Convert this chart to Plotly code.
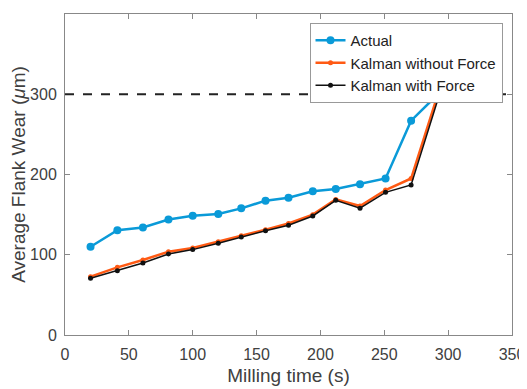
import plotly.graph_objects as go

time_s = [20, 41, 61, 81, 100, 120, 138, 157, 175, 194, 212, 231, 251, 271, 292]
actual = [110, 130.5, 134, 144, 148.7, 150.8, 157.8, 167.4, 171, 179, 182, 188, 195, 267, 300]
kalman_no_force = [72.7, 84.3, 93.5, 103.8, 108.4, 116.3, 123.7, 131.2, 139, 150, 169, 160.7, 180.7, 195, 300]
kalman_force = [70.6, 80, 89.7, 101, 106.4, 114.2, 122, 130, 136.7, 148.3, 167.8, 158, 177.8, 187, 293.7]
threshold = 300

FONT = "Liberation Sans, Arial, sans-serif"

fig = go.Figure()
fig.add_trace(go.Scatter(x=time_s, y=actual, mode="lines+markers", name="Actual",
                         line=dict(color="#0a9ad8", width=2.5),
                         marker=dict(size=8, color="#0a9ad8")))
fig.add_trace(go.Scatter(x=time_s, y=kalman_no_force, mode="lines+markers", name="Kalman without Force",
                         line=dict(color="#ff5a14", width=2.5),
                         marker=dict(size=5, color="#ff5a14")))
fig.add_trace(go.Scatter(x=time_s, y=kalman_force, mode="lines+markers", name="Kalman with Force",
                         line=dict(color="#111111", width=1.5),
                         marker=dict(size=5, color="#111111")))

fig.add_shape(type="line", xref="paper", yref="y", x0=0, x1=1, y0=threshold, y1=threshold,
              line=dict(color="#222222", width=2, dash="dash"))

axis_common = dict(showgrid=False, zeroline=False, showline=True, linecolor="#888888", linewidth=1,
                   mirror="ticks", ticks="inside", ticklen=5, tickcolor="#888888", automargin=False,
                   tickfont=dict(family=FONT, size=16, color="#404040"))

fig.update_xaxes(range=[0, 350], dtick=50, ticklabelstandoff=5,
                 title=dict(text="Milling time (s)", font=dict(family=FONT, size=19, color="#404040"), standoff=6),
                 **axis_common)
fig.update_yaxes(range=[0, 400], dtick=100, ticklabelstandoff=4,
                 title=dict(text="Average Flank Wear (<i>μ</i>m)", font=dict(family=FONT, size=19, color="#404040"), standoff=3),
                 **axis_common)

# The page body has an 8px default margin, so the figure is shifted by 8px.
fig.update_layout(
    width=519, height=381,
    margin=dict(l=57, r=15, t=6, b=54),
    paper_bgcolor="white", plot_bgcolor="white",
    font=dict(family=FONT, color="#222222"),
    legend=dict(x=0.547, y=0.972, xanchor="left", yanchor="top",
                bgcolor="white", bordercolor="#999999", borderwidth=1,
                font=dict(family=FONT, size=15, color="#222222"),
                tracegroupgap=0, itemwidth=30),
    showlegend=True,
)

fig.write_html("out.html")
